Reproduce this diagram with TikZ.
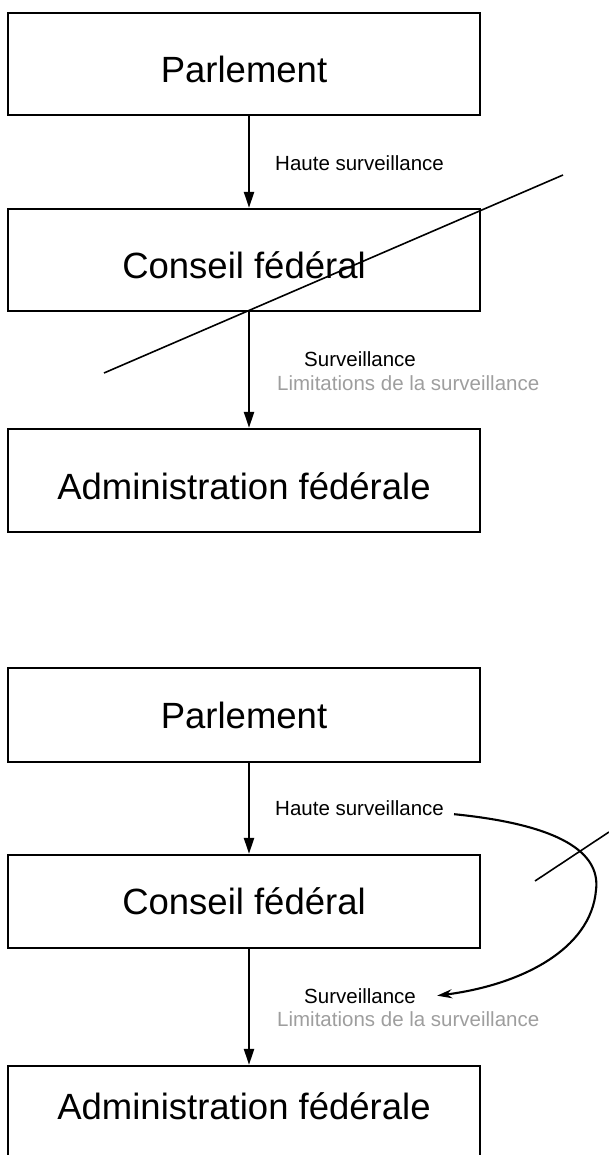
\documentclass[tikz,border=0pt]{standalone}
\usepackage{fontspec}
\setmainfont{Liberation Sans}
\usetikzlibrary{arrows.meta}
\begin{document}
\begin{tikzpicture}[x=1pt,y=-1pt,
  bigbox/.style={draw, line width=2.2pt, minimum width=472pt, inner sep=0pt,
    font=\fontsize{36.5}{40}\selectfont, text depth=0pt},
  small/.style={anchor=base west, inner sep=0pt, font=\fontsize{20.5}{24}\selectfont},
  graylbl/.style={small, text=black!38},
  varrow/.style={line width=2pt, -{Triangle[length=16pt,width=10pt]}},
  slash/.style={line width=1.6pt},
  curv/.style={line width=2.1pt, -{Stealth[length=15pt,width=9pt]}}]
\useasboundingbox (0,0) rectangle (609,1155);
% ---- top diagram ----
\node[bigbox, minimum height=102pt, text height=37pt] (P1) at (244,64) {Parlement};
\node[bigbox, minimum height=102pt, text height=37pt] (C1) at (244,260) {Conseil fédéral};
\node[bigbox, minimum height=103pt, text height=37pt] (A1) at (244,480.5) {Administration fédérale};
\draw[varrow] ([xshift=5pt]P1.south) -- ([xshift=5pt]C1.north);
\draw[varrow] ([xshift=5pt]C1.south) -- ([xshift=5pt]A1.north);
\node[small] (H1) at (275,170.5) {Haute surveillance};
\node[small] (S1) at (304,366.5) {Surveillance};
\node[graylbl] (L1) at (277,390) {Limitations de la surveillance};
\draw[slash] (104,373) -- (563,175);
% ---- bottom diagram ----
\node[bigbox, minimum height=94pt, text height=26pt] (P2) at (244,715) {Parlement};
\node[bigbox, minimum height=93pt, text height=26pt] (C2) at (244,901.5) {Conseil fédéral};
\node[bigbox, minimum height=94pt, text height=12pt] (A2) at (244,1113) {Administration fédérale};
\draw[varrow] ([xshift=5pt]P2.south) -- ([xshift=5pt]C2.north);
\draw[varrow] ([xshift=5pt]C2.south) -- ([xshift=5pt]A2.north);
\node[small] (H2) at (275,815.5) {Haute surveillance};
\node[small] (S2) at (304,1003) {Surveillance};
\node[graylbl] (L2) at (277,1026.5) {Limitations de la surveillance};
\coordinate (cs) at ([xshift=10pt,yshift=-6pt]H2.east);
\coordinate (ce) at ([xshift=21pt]S2.east);
\draw[curv] (cs) .. controls (572,826) and (600,858) .. (596,890)
  .. controls (591,950) and (520,985) .. (ce);
\draw[slash] (535,881) -- (609,832);
\end{tikzpicture}
\end{document}
